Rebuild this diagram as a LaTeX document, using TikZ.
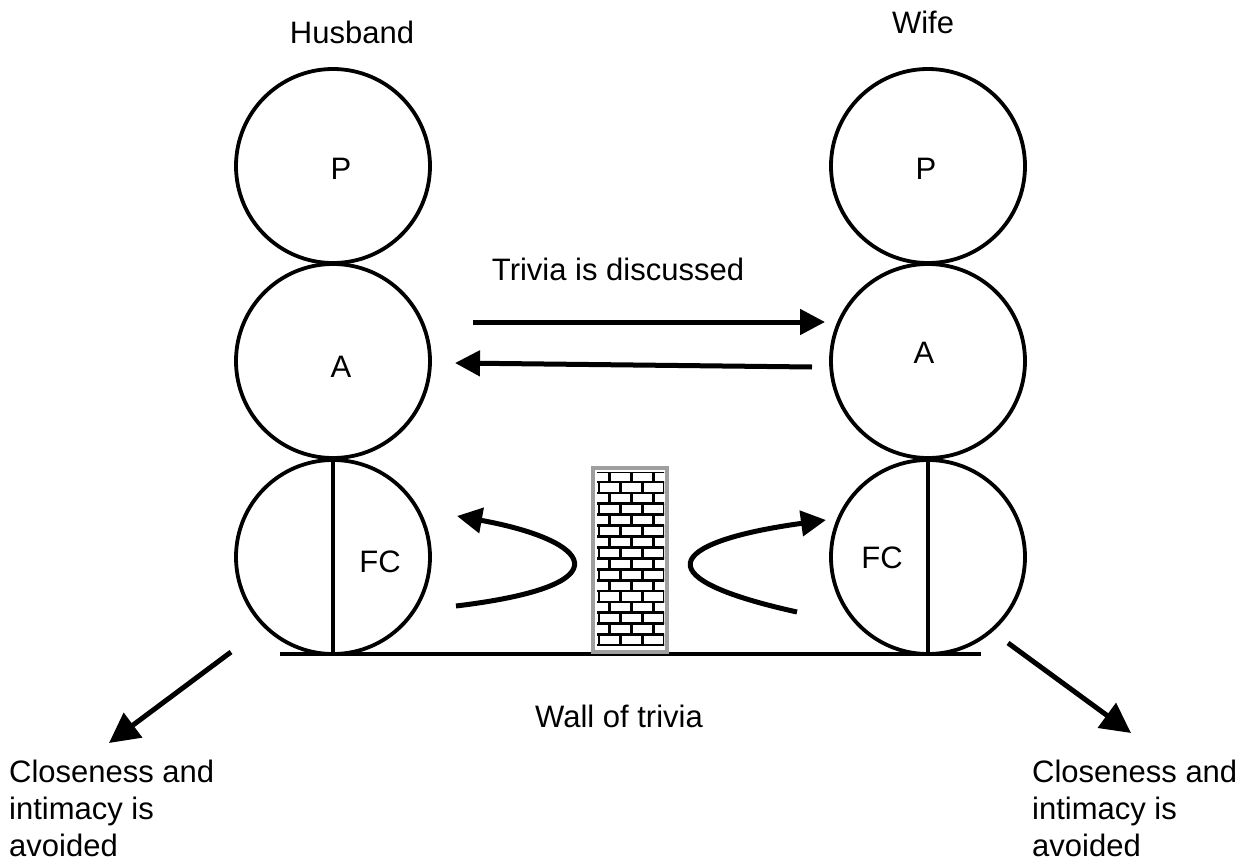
\documentclass[tikz,border=0pt]{standalone}
\usepackage{fontspec}
\setmainfont{Liberation Sans}
\usetikzlibrary{arrows.meta}
\begin{document}
\begin{tikzpicture}[x=1pt,y=-1pt,
  ego/.style={circle,draw,line width=3.8pt,minimum size=194pt,inner sep=0pt},
  lbl/.style={font=\fontsize{31}{37}\selectfont,inner sep=0pt},
  tag/.style={lbl,anchor=base},
  note/.style={lbl,align=left,anchor=north west},
  arr/.style={line width=5pt,-{Triangle[length=25pt,width=25pt]}},
  bigarr/.style={line width=5pt,-{Triangle[length=30pt,width=30pt]}},
  brickline/.style={line width=2.8pt,black}
]
\useasboundingbox (0,0) rectangle (1251,862);

% Husband ego states
\node[ego] (hp) at (333,166) {};
\node[ego] (ha) at (333,361) {};
\node[ego] (hc) at (333,557) {};
% Wife ego states
\node[ego] (wp) at (928,166) {};
\node[ego] (wa) at (928,361) {};
\node[ego] (wc) at (928,557) {};

% split of the child circles
\draw[line width=3.8pt] (hc.north) -- (hc.south);
\draw[line width=3.8pt] (wc.north) -- (wc.south);

% labels
\node[tag] (husband) at (352,43) {Husband};
\node[tag] (wife) at (923,33) {Wife};
\node[tag] (hpl) at (341,179) {P};
\node[tag] (wpl) at (926,179) {P};
\node[tag] (hal) at (341,377) {A};
\node[tag] (wal) at (924,363) {A};
\node[tag] (hcl) at (380,572) {FC};
\node[tag] (wcl) at (882,568) {FC};
\node[tag] (triv) at (618,280) {Trivia is discussed};
\node[tag] (wall) at (619,727) {Wall of trivia};

% ground line
\coordinate (gl) at (280,654);
\coordinate (gr) at (981,654);
\draw[line width=3.8pt] (gl) -- (gr);

% brick wall
\begin{scope}
  \clip (597,472) rectangle (664,645);
  \fill[white] (597,472) rectangle (664,645);
  \foreach \i in {-1,...,15} {
    \pgfmathsetmacro{\yy}{482+10.9*\i}
    \draw[brickline] (590,\yy) -- (670,\yy);
    \pgfmathsetmacro{\off}{mod(\i+1,2)==0 ? 10.8 : 0}
    \foreach \k in {-1,...,3} {
      \pgfmathsetmacro{\xx}{599+\off+21.7*\k}
      \draw[brickline] (\xx,\yy) -- (\xx,\yy+10.9);
    }
  }
\end{scope}
\draw[line width=4.5pt,gray!75] (593,468) rectangle (667,652);

% trivia exchange
\coordinate (t1s) at (473,322);
\coordinate (t1e) at (825,322);
\coordinate (t2s) at (812,367);
\coordinate (t2e) at (455,363);
\draw[arr] (t1s) -- (t1e);
\draw[arr] (t2s) -- (t2e);

% deflected crossed transactions
\coordinate (l1) at (456,606);
\coordinate (l2) at (457,516);
\draw[arr] (l1) .. controls (630,585) and (590,540) .. (l2);
\coordinate (r1) at (797,612);
\coordinate (r2) at (826,520);
\draw[arr] (r1) .. controls (630,575) and (680,540) .. (r2);

% outcomes
\coordinate (ol) at (231,652);
\coordinate (olt) at (109,743);
\coordinate (or) at (1008,643);
\coordinate (ort) at (1131,733);
\draw[bigarr] (ol) -- (olt);
\draw[bigarr] (or) -- (ort);

\node[note] (cl) at (9,760) {Closeness and\\intimacy is\\avoided};
\node[note] (cr) at (1032,760) {Closeness and\\intimacy is\\avoided};
\end{tikzpicture}
\end{document}
